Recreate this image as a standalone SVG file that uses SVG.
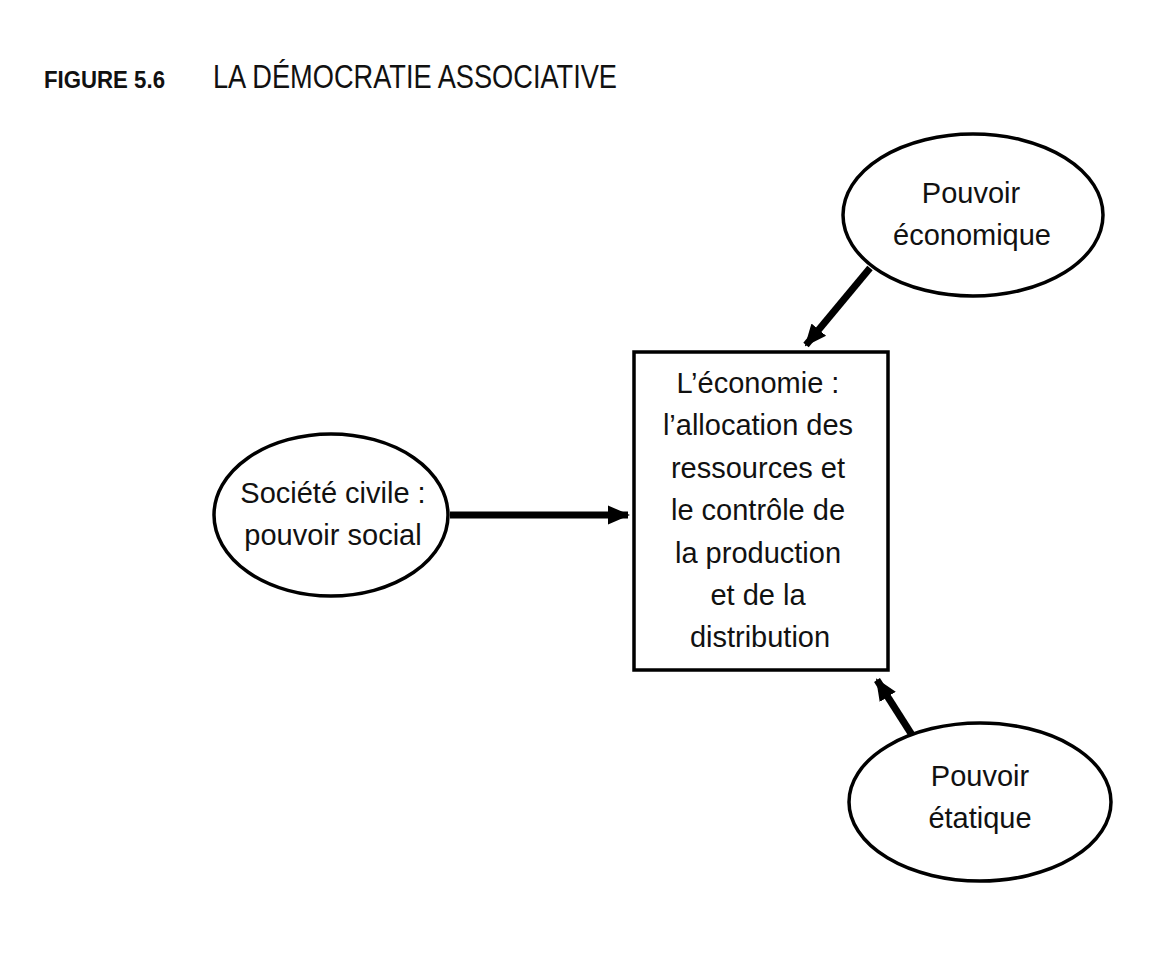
<svg xmlns="http://www.w3.org/2000/svg" width="1173" height="967" viewBox="0 0 1173 967">
<style>
.node{fill:#fff;stroke:#000;stroke-width:3.5}
.t{font-family:"Liberation Sans","DejaVu Sans",sans-serif;font-size:29px;fill:#111;text-anchor:middle}
.conn{stroke:#000;stroke-width:7;fill:none}
</style>
<defs>
<marker id="ah" markerUnits="userSpaceOnUse" markerWidth="22" markerHeight="22" viewBox="0 0 22 22" refX="20" refY="11" orient="auto">
<path d="M0,1.5 L22,11 L0,20.5 Z" fill="#000"/>
</marker>
</defs>
<rect width="1173" height="967" fill="#fff"/>
<g id="title">
<text x="44" y="88" font-family="'Liberation Sans',sans-serif" font-weight="bold" font-size="23" textLength="121" lengthAdjust="spacingAndGlyphs" fill="#111">FIGURE 5.6</text>
<text x="213" y="88" font-family="'Liberation Sans',sans-serif" font-size="33" textLength="404" lengthAdjust="spacingAndGlyphs" fill="#111">LA DÉMOCRATIE ASSOCIATIVE</text>
</g>
<g id="connectors">
<line class="conn" x1="450" y1="515" x2="628" y2="515" marker-end="url(#ah)"/>
<line class="conn" x1="870" y1="268" x2="806" y2="345" marker-end="url(#ah)"/>
<line class="conn" x1="912" y1="735" x2="877" y2="680" marker-end="url(#ah)"/>
</g>
<g id="economie">
<rect class="node" x="634" y="352" width="254" height="318"/>
<text class="t" x="758" y="393">L’économie :</text>
<text class="t" x="758" y="435">l’allocation des</text>
<text class="t" x="758" y="478">ressources et</text>
<text class="t" x="758" y="520">le contrôle de</text>
<text class="t" x="758" y="563">la production</text>
<text class="t" x="758" y="605">et de la</text>
<text class="t" x="760" y="647">distribution</text>
</g>
<g id="pouvoir-economique">
<ellipse class="node" cx="973" cy="215" rx="130" ry="81"/>
<text class="t" x="971" y="203">Pouvoir</text>
<text class="t" x="972" y="245">économique</text>
</g>
<g id="societe-civile">
<ellipse class="node" cx="331" cy="515" rx="117" ry="81"/>
<text class="t" x="333" y="503">Société civile :</text>
<text class="t" x="333" y="545">pouvoir social</text>
</g>
<g id="pouvoir-etatique">
<ellipse class="node" cx="980" cy="802" rx="131" ry="79"/>
<text class="t" x="980" y="786">Pouvoir</text>
<text class="t" x="980" y="828">étatique</text>
</g>
</svg>
